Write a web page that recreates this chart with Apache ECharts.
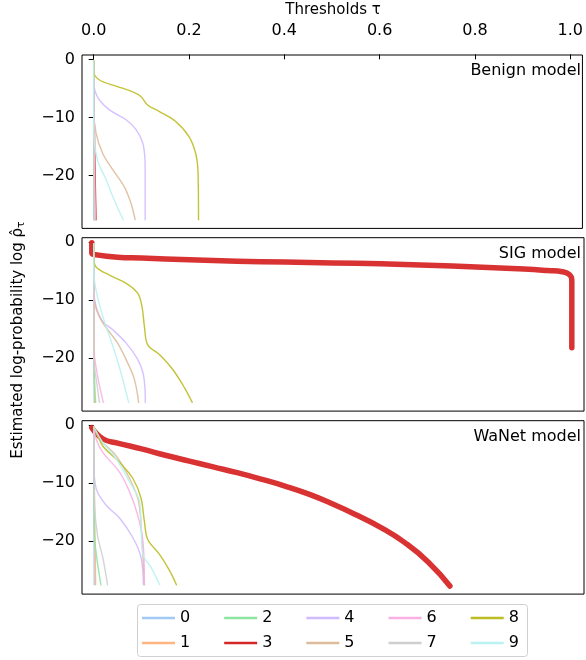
<!DOCTYPE html>
<html><head><meta charset="utf-8">
<script src="https://cdn.jsdelivr.net/npm/echarts@6/dist/echarts.min.js"></script>
<style>html,body{margin:0;padding:0;background:#fff}#c{width:586px;height:660px}</style>
</head><body><div id="c"></div>
<script>
// ---- data ----
const classNames = ['0','1','2','3','4','5','6','7','8','9'];
const classColors = ['#a1c9f4','#ffb482','#8de5a1','#d62728','#d0bbff','#debb9b','#fab0e4','#cfcfcf','#bcbd22','#b9f2f0'];
const panelNames = ['Benign model','SIG model','WaNet model'];
const xTicks = [0, 0.2, 0.4, 0.6, 0.8, 1.0];
const yTicks = [0, -10, -20];
const targetClass = 3;

// each curve: list of [threshold tau, log-probability]
const benignCurves = [
  [[0,-0.3],[0.001,-27.6]],
  [[0,-0.3],[0.001,-10],[0.004,-27.6]],
  [[0,-0.3],[0,-27.6]],
  [[0,-0.3],[0.002,-15],[0.005,-27.6]],
  [[0,-0.3],[0,-3.5],[0.003,-5.5],[0.012,-7.0],[0.033,-8.7],[0.068,-10.4],[0.089,-12.1],[0.103,-14.4],[0.107,-16.5],[0.108,-18.5],[0.108,-27.6]],
  [[0,-0.3],[0,-8.5],[0.005,-12.7],[0.019,-16.2],[0.04,-19.0],[0.064,-21.9],[0.078,-24.7],[0.087,-27.6]],
  [[0,-0.3],[0.002,-20],[0.004,-27.6]],
  [[0,-0.3],[0.001,-27.6]],
  [[0,-0.3],[0,-2.1],[0.012,-3.55],[0.047,-4.6],[0.082,-5.6],[0.099,-6.4],[0.113,-7.85],[0.138,-9.0],[0.172,-10.7],[0.2,-13.3],[0.214,-16.2],[0.219,-19.6],[0.22,-27.6]],
  [[0,-0.3],[0,-12],[0.008,-17.3],[0.026,-20.7],[0.043,-24.2],[0.062,-27.6]]
];
const sigCurves = [
  [[0,-0.3],[0.001,-27.6]],
  [[0,-0.3],[0.002,-27.6]],
  [[0,-0.3],[0,-20],[0.004,-27.6]],
  [[-0.004,-0.1],[-0.004,-1.9],[0.01,-2.25],[0.05,-2.6],[0.1,-2.75],[0.2,-3.05],[0.3,-3.3],[0.4,-3.45],[0.5,-3.6],[0.6,-3.75],[0.7,-4.0],[0.8,-4.3],[0.9,-4.65],[0.95,-4.9],[0.98,-5.1],[0.995,-5.6],[1.0,-6.8],[1.0,-18.2]],
  [[0,-0.3],[0,-8],[0.005,-11.1],[0.019,-13.7],[0.04,-15.1],[0.068,-17.4],[0.092,-20.2],[0.103,-22.5],[0.107,-25],[0.108,-27.6]],
  [[0,-0.3],[0,-9],[0.006,-11.7],[0.019,-13.9],[0.05,-17.4],[0.071,-20.8],[0.085,-23.6],[0.094,-27.6]],
  [[0,-0.3],[0,-18],[0.008,-23],[0.02,-27.6]],
  [[0,-0.3],[0,-20],[0.006,-24],[0.012,-27.6]],
  [[0,-0.3],[0,-2.56],[0.005,-4.3],[0.033,-5.7],[0.068,-7.1],[0.092,-8.8],[0.101,-11.1],[0.106,-14.5],[0.113,-17.7],[0.138,-19.4],[0.165,-21.9],[0.19,-25.1],[0.206,-27.6]],
  [[0,-0.3],[0,-5],[0.005,-8.3],[0.019,-12.8],[0.04,-17.9],[0.057,-22.5],[0.073,-27.6]]
];
const wanetCurves = [
  [[0,-0.3],[0.001,-27.5]],
  [[0,-0.3],[0.002,-15],[0.004,-27.5]],
  [[0,-0.3],[0.001,-18],[0.005,-22],[0.015,-27.5]],
  [[-0.004,-0.45],[0.02,-2.4],[0.05,-3.1],[0.1,-4.1],[0.15,-5.2],[0.2,-6.2],[0.25,-7.2],[0.3,-8.2],[0.35,-9.3],[0.4,-10.5],[0.45,-11.9],[0.5,-13.6],[0.55,-15.5],[0.6,-17.6],[0.65,-20.2],[0.7,-23.6],[0.745,-27.7]],
  [[0,-0.3],[0,-5.8],[0.005,-10.9],[0.026,-13.8],[0.054,-16.0],[0.082,-19.4],[0.099,-22.8],[0.104,-27.5]],
  [[0,-0.3],[0.012,-2.4],[0.047,-5.3],[0.075,-9.2],[0.094,-13.2],[0.101,-20.0],[0.106,-27.5]],
  [[0,-0.3],[0.005,-2.4],[0.019,-4.7],[0.054,-8.1],[0.075,-11.5],[0.092,-15.5],[0.103,-20.0],[0.106,-27.5]],
  [[0,-0.3],[0.002,-14],[0.008,-19],[0.019,-22.8],[0.029,-27.5]],
  [[0,-0.3],[0.005,-1.0],[0.019,-3.6],[0.054,-6.4],[0.082,-9.2],[0.099,-12.6],[0.106,-16.6],[0.113,-19.7],[0.138,-22.3],[0.159,-25.1],[0.173,-27.5]],
  [[0,-0.3],[0.019,-3.0],[0.047,-5.8],[0.075,-9.8],[0.096,-13.2],[0.099,-17.2],[0.103,-22.3],[0.12,-24.5],[0.138,-27.5]]
];
const panels = [benignCurves, sigCurves, wanetCurves];

// ---- layout ----
const FONT = 'DejaVu Sans';
const gridTops = [55, 237.7, 420.7];
const gridH = 173.4;
const gridLeft = 82, gridW = 502;
const X_MIN = -0.0245, X_MAX = 1.0255;
const Y_MIN = -29.1, Y_MAX = 0.75;

const grids = [], xAxes = [], yAxes = [], series = [];
panels.forEach((curves, p) => {
  grids.push({left: gridLeft, top: gridTops[p], width: gridW, height: gridH,
    show: true, borderColor: '#000', borderWidth: 1, backgroundColor: 'transparent'});
  xAxes.push({type: 'value', gridIndex: p, min: X_MIN, max: X_MAX,
    position: 'top', show: p === 0,
    axisLine: {show: false}, splitLine: {show: false},
    axisTick: {show: true, length: 5, lineStyle: {color: '#000'}, customValues: xTicks},
    axisLabel: {show: true, customValues: xTicks, color: '#000', fontFamily: FONT, fontSize: 16, margin: 16,
      formatter: v => v.toFixed(1)}
  });
  yAxes.push({type: 'value', gridIndex: p, min: Y_MIN, max: Y_MAX,
    axisLine: {show: false}, splitLine: {show: false},
    axisTick: {show: true, length: 5, lineStyle: {color: '#000'}, customValues: yTicks},
    axisLabel: {show: true, customValues: yTicks, color: '#000', fontFamily: FONT, fontSize: 16, margin: 7,
      formatter: v => String(v).replace('-', '\u2212')}
  });
  curves.forEach((pts, k) => {
    const thick = (k === targetClass && p > 0);
    series.push({
      name: classNames[k], type: 'line', xAxisIndex: p, yAxisIndex: p,
      data: pts, showSymbol: false, symbol: 'none', smooth: thick ? 0.5 : 0.35,
      clip: true, silent: true, animation: false,
      z: thick ? 1 : 2,
      lineStyle: {color: classColors[k], width: thick ? 5.5 : 1.4, opacity: thick ? 0.95 : 0.9, cap: 'round', join: 'round'},
      itemStyle: {color: classColors[k]}
    });
  });
});

const legendCommon = {
  left: 137, itemWidth: 33, itemHeight: 2.5, itemGap: 34, icon: 'rect',
  textStyle: {fontFamily: FONT, fontSize: 16, color: '#000'},
  selectedMode: false
};

const option = {
  animation: false,
  backgroundColor: '#fff',
  grid: grids, xAxis: xAxes, yAxis: yAxes, series: series,
  legend: [
    Object.assign({}, legendCommon, {top: 605, data: [0,2,4,6,8].map(k => classNames[k])}),
    Object.assign({}, legendCommon, {top: 630, data: [1,3,5,7,9].map(k => classNames[k])})
  ],
  graphic: [
    {type: 'rect', shape: {x: 137.5, y: 604.5, width: 390, height: 52, r: 3},
      style: {fill: 'none', stroke: '#d0d0d0', lineWidth: 1}, z: -1},
    {type: 'text', x: 333, y: 10,
      style: {text: 'Thresholds \u03c4', fontFamily: FONT, fontSize: 15, fill: '#000', align: 'center', verticalAlign: 'middle'}},
    {type: 'text', x: 18, y: 340, rotation: Math.PI / 2,
      style: {text: 'Estimated log-probability log {r|\u03c1\u0302}{s|\u03c4}',
        fontFamily: FONT, fontSize: 15, fill: '#000', align: 'center', verticalAlign: 'middle',
        rich: {r: {fontFamily: FONT, fontSize: 15, fill: '#000'}, s: {fontFamily: FONT, fontSize: 11, fill: '#000', padding: [6, 0, 0, 0]}}}},
    ...panelNames.map((t, p) => ({type: 'text', x: 581, y: gridTops[p] + 16,
      style: {text: t, fontFamily: FONT, fontSize: 16, fill: '#000', align: 'right', verticalAlign: 'middle'}}))
  ]
};

const chart = echarts.init(document.getElementById('c'), null, {renderer: 'canvas'});
chart.setOption(option);
</script>
</body></html>
